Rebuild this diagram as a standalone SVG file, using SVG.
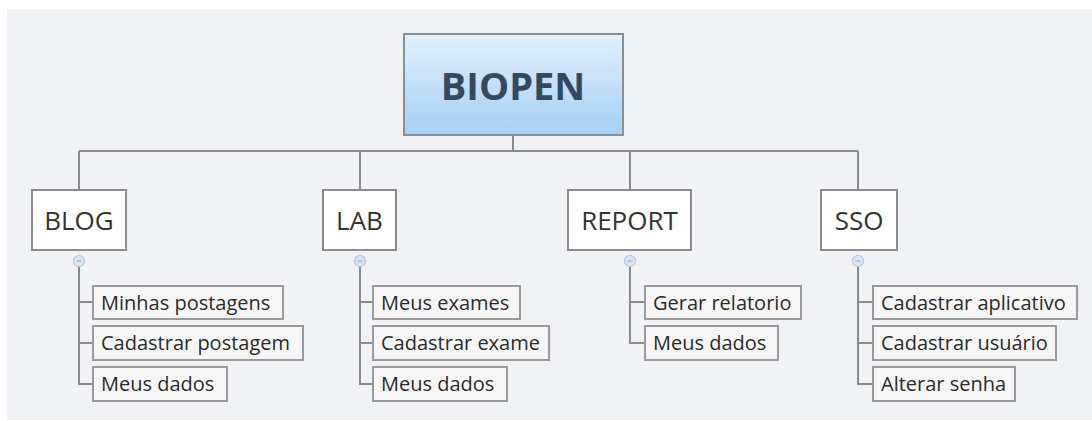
<svg xmlns="http://www.w3.org/2000/svg" width="1092" height="421" viewBox="0 0 1092 421">
  <style>
    .topic rect { fill: #ffffff; stroke: #8c8c8c; stroke-width: 2; }
    .topic text { font-family: "Open Sans", "Noto Sans", sans-serif; font-size: 26px; fill: #333333; text-anchor: middle; }
    .sub rect { fill: #f6f6f6; stroke: #9a9a9a; stroke-width: 2; }
    .sub text { font-family: "Open Sans", "Noto Sans", sans-serif; font-size: 20px; fill: #2b2b2b; }
    .link { fill: none; stroke: #8a8a8a; stroke-width: 2; }
    .fold { fill: #dbe6f3; stroke: #b3c5dc; stroke-width: 1.2; }
    .fold-bar { stroke: #9fb4cf; stroke-width: 1.2; }
  </style>
  <defs>
    <linearGradient id="rootFill" x1="0" y1="0" x2="0" y2="1">
      <stop offset="0" stop-color="#e3f0fc"/>
      <stop offset="1" stop-color="#a3cff6"/>
    </linearGradient>
  </defs>

  <!-- canvas -->
  <rect x="0" y="0" width="1092" height="421" fill="#ffffff"/>
  <rect x="7" y="9" width="1085" height="411" fill="#f1f2f6"/>

  <!-- connectors -->
  <g id="connectors">
    <path class="link" d="M513 135 V151 M79 151 H858 M79 151 V190 M360 151 V190 M630 151 V190 M858 151 V190"/>
    <!-- BLOG children -->
    <path class="link" d="M79 266 V384 H93 M79 302 H93 M79 343 H93"/>
    <!-- LAB children -->
    <path class="link" d="M360 266 V384 H373 M360 302 H373 M360 343 H373"/>
    <!-- REPORT children -->
    <path class="link" d="M630 266 V343 H645 M630 302 H645"/>
    <!-- SSO children -->
    <path class="link" d="M858 266 V384 H873 M858 302 H873 M858 343 H873"/>
    <!-- fold markers -->
    <circle class="fold" cx="79" cy="261" r="5.5"/>
    <line class="fold-bar" x1="76.5" y1="261" x2="81.5" y2="261"/>
    <circle class="fold" cx="360" cy="261" r="5.5"/>
    <line class="fold-bar" x1="357.5" y1="261" x2="362.5" y2="261"/>
    <circle class="fold" cx="630" cy="261" r="5.5"/>
    <line class="fold-bar" x1="627.5" y1="261" x2="632.5" y2="261"/>
    <circle class="fold" cx="858" cy="261" r="5.5"/>
    <line class="fold-bar" x1="855.5" y1="261" x2="860.5" y2="261"/>
  </g>

  <!-- root -->
  <g id="biopen">
    <rect x="404" y="34" width="219" height="101" fill="url(#rootFill)" stroke="#8a8f96" stroke-width="2"/>
    <text x="513" y="100" font-family="'Open Sans', 'Noto Sans', sans-serif" font-size="38" font-weight="bold" fill="#34495e" text-anchor="middle">BIOPEN</text>
  </g>

  <!-- main topics -->
  <g id="blog" class="topic">
    <rect x="32" y="190" width="94" height="60"/>
    <text x="79" y="230">BLOG</text>
  </g>
  <g id="lab" class="topic">
    <rect x="323" y="190" width="73" height="60"/>
    <text x="359.5" y="230">LAB</text>
  </g>
  <g id="report" class="topic">
    <rect x="568" y="190" width="123" height="60"/>
    <text x="629.5" y="230">REPORT</text>
  </g>
  <g id="sso" class="topic">
    <rect x="821" y="190" width="76" height="60"/>
    <text x="859" y="230">SSO</text>
  </g>

  <!-- BLOG subtopics -->
  <g id="blog-minhas-postagens" class="sub">
    <rect x="93" y="286" width="190" height="33"/>
    <text x="101" y="310">Minhas postagens</text>
  </g>
  <g id="blog-cadastrar-postagem" class="sub">
    <rect x="93" y="326" width="210" height="34"/>
    <text x="101" y="350">Cadastrar postagem</text>
  </g>
  <g id="blog-meus-dados" class="sub">
    <rect x="93" y="367" width="134" height="34"/>
    <text x="101" y="391">Meus dados</text>
  </g>

  <!-- LAB subtopics -->
  <g id="lab-meus-exames" class="sub">
    <rect x="373" y="286" width="147" height="33"/>
    <text x="381" y="310">Meus exames</text>
  </g>
  <g id="lab-cadastrar-exame" class="sub">
    <rect x="373" y="326" width="176" height="34"/>
    <text x="381" y="350">Cadastrar exame</text>
  </g>
  <g id="lab-meus-dados" class="sub">
    <rect x="373" y="367" width="134" height="34"/>
    <text x="381" y="391">Meus dados</text>
  </g>

  <!-- REPORT subtopics -->
  <g id="report-gerar-relatorio" class="sub">
    <rect x="645" y="286" width="156" height="33"/>
    <text x="653" y="310">Gerar relatorio</text>
  </g>
  <g id="report-meus-dados" class="sub">
    <rect x="645" y="326" width="133" height="34"/>
    <text x="653" y="350">Meus dados</text>
  </g>

  <!-- SSO subtopics -->
  <g id="sso-cadastrar-aplicativo" class="sub">
    <rect x="873" y="286" width="204" height="33"/>
    <text x="881" y="310">Cadastrar aplicativo</text>
  </g>
  <g id="sso-cadastrar-usuario" class="sub">
    <rect x="873" y="326" width="183" height="34"/>
    <text x="881" y="350">Cadastrar usuário</text>
  </g>
  <g id="sso-alterar-senha" class="sub">
    <rect x="873" y="367" width="142" height="34"/>
    <text x="881" y="391">Alterar senha</text>
  </g>
</svg>
